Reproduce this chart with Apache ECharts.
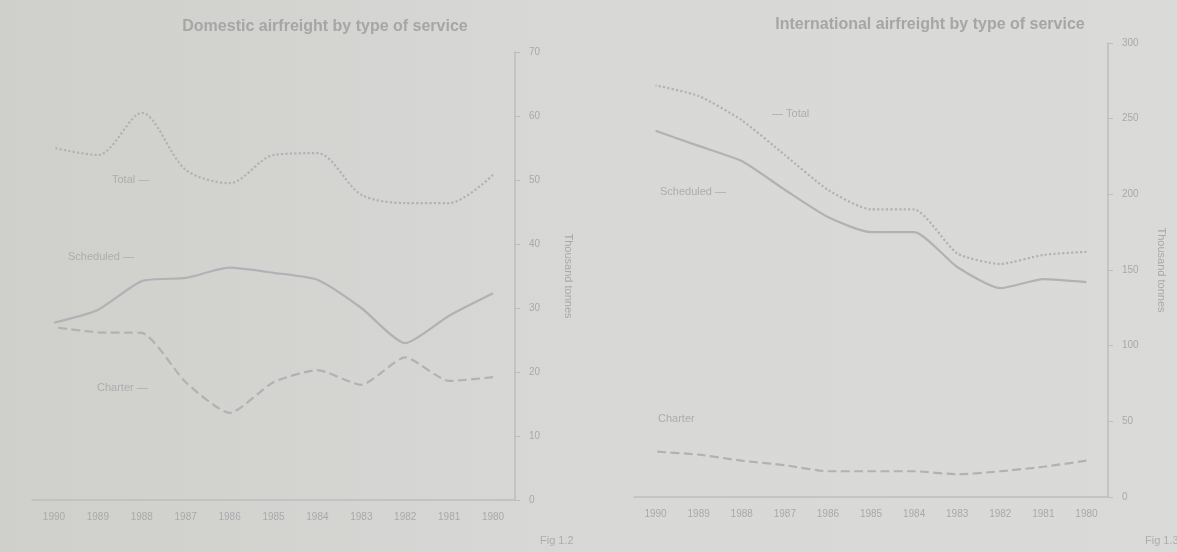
<!DOCTYPE html>
<html lang="en" style="height: 100%">
<head>
<meta charset="utf-8">
<title>Airfreight by type of service</title>
</head>
<body style="height: 100%; margin: 0">
<div id="container" style="height: 100%"></div>

<script type="text/javascript" src="https://cdn.jsdelivr.net/npm/echarts/dist/echarts.min.js"></script>

<script type="text/javascript">

var dom = document.getElementById('container');
var myChart = echarts.init(dom);

// years (chronological; axes are drawn reversed like the scan)
var years = ['1980', '1981', '1982', '1983', '1984', '1985', '1986', '1987', '1988', '1989', '1990'];

// domestic, thousand tonnes
var domTotal = [50.8, 46.4, 46.4, 47.7, 54.2, 53.9, 49.5, 51.6, 60.5, 53.9, 55.0];
var domScheduled = [32.3, 28.8, 24.5, 30.0, 34.4, 35.5, 36.3, 34.7, 34.2, 29.7, 27.7];
var domCharter = [19.2, 18.6, 22.3, 18.0, 20.3, 18.4, 13.6, 18.4, 26.1, 26.2, 27.0];

// international, thousand tonnes
var intTotal = [162, 160, 154, 161, 190, 190, 203, 226, 249, 265, 272];
var intScheduled = [142, 144, 138, 152, 175, 175, 185, 203, 222, 232, 242];
var intCharter = [24, 20, 17, 15, 17, 17, 17, 21, 24, 28, 30];

var ink = '#a9a9ab';
var lineInk = '#b2b2b6';
var font = 'Liberation Sans';

function xAxisFor(gi) {
    return {
        type: 'category',
        gridIndex: gi,
        data: years,
        inverse: true,
        boundaryGap: true,
        axisLine: { lineStyle: { color: '#bdbdc0', width: 1.5 } },
        axisTick: { alignWithLabel: true, length: 5, lineStyle: { color: '#bdbdc0' } },
        axisLabel: { color: ink, fontSize: 10, fontFamily: font, margin: 12 },
        splitLine: { show: false }
    };
}

function yAxisFor(gi, max, step) {
    return {
        type: 'value',
        gridIndex: gi,
        position: 'right',
        min: 0,
        max: max,
        interval: step,
        name: 'Thousand tonnes',
        nameLocation: 'middle',
        nameRotate: -90,
        nameGap: 48,
        nameTextStyle: { color: ink, fontSize: 11, fontFamily: font },
        axisLine: { show: true, lineStyle: { color: '#bdbdc0', width: 1.5 } },
        axisTick: { show: true, length: 5, lineStyle: { color: '#bdbdc0' } },
        axisLabel: { color: ink, fontSize: 10, fontFamily: font, margin: 14 },
        splitLine: { show: false }
    };
}

function lineSeries(name, gi, data, type, smooth) {
    return {
        name: name,
        type: 'line',
        xAxisIndex: gi,
        yAxisIndex: gi,
        data: data,
        smooth: smooth,
        symbol: 'none',
        lineStyle: { color: lineInk, width: 2.2, type: type }
    };
}

function tag(x, y, text) {
    return {
        type: 'text',
        left: x,
        top: y,
        style: { text: text, fill: '#adadb0', font: '11px "Liberation Sans"' }
    };
}

var option = {
    backgroundColor: {
        type: 'linear', x: 0, y: 0, x2: 1, y2: 0,
        colorStops: [
            { offset: 0, color: '#cfcfcc' },
            { offset: 0.5, color: '#d8d8d6' },
            { offset: 1, color: '#dadad8' }
        ]
    },
    textStyle: { fontFamily: font },
    title: [
        {
            text: 'Domestic airfreight by type of service',
            left: 320, top: 14, textAlign: 'center',
            textStyle: { color: '#a6a6a6', fontSize: 16, fontWeight: 'bold', fontFamily: font }
        },
        {
            text: 'International airfreight by type of service',
            left: 925, top: 12, textAlign: 'center',
            textStyle: { color: '#a6a6a6', fontSize: 16, fontWeight: 'bold', fontFamily: font }
        }
    ],
    grid: [
        { left: 32, top: 52, width: 483, height: 448 },
        { left: 634, top: 43, width: 474, height: 454 }
    ],
    xAxis: [xAxisFor(0), xAxisFor(1)],
    yAxis: [yAxisFor(0, 70, 10), yAxisFor(1, 300, 50)],
    series: [
        lineSeries('Total', 0, domTotal, 'dotted', 0.3),
        lineSeries('Scheduled', 0, domScheduled, 'solid', 0.2),
        lineSeries('Charter', 0, domCharter, 'dashed', 0.2),
        lineSeries('Total', 1, intTotal, 'dotted', 0.2),
        lineSeries('Scheduled', 1, intScheduled, 'solid', 0.2),
        lineSeries('Charter', 1, intCharter, 'dashed', 0.2)
    ],
    graphic: [
        tag(112, 174, 'Total \u2014'),
        tag(68, 251, 'Scheduled \u2014'),
        tag(97, 382, 'Charter \u2014'),
        tag(772, 108, '\u2014 Total'),
        tag(660, 186, 'Scheduled \u2014'),
        tag(658, 413, 'Charter'),
        tag(540, 535, 'Fig 1.2'),
        tag(1145, 535, 'Fig 1.3')
    ]
};

myChart.setOption(option);

window.addEventListener('resize', myChart.resize);
</script>
</body>
</html>
